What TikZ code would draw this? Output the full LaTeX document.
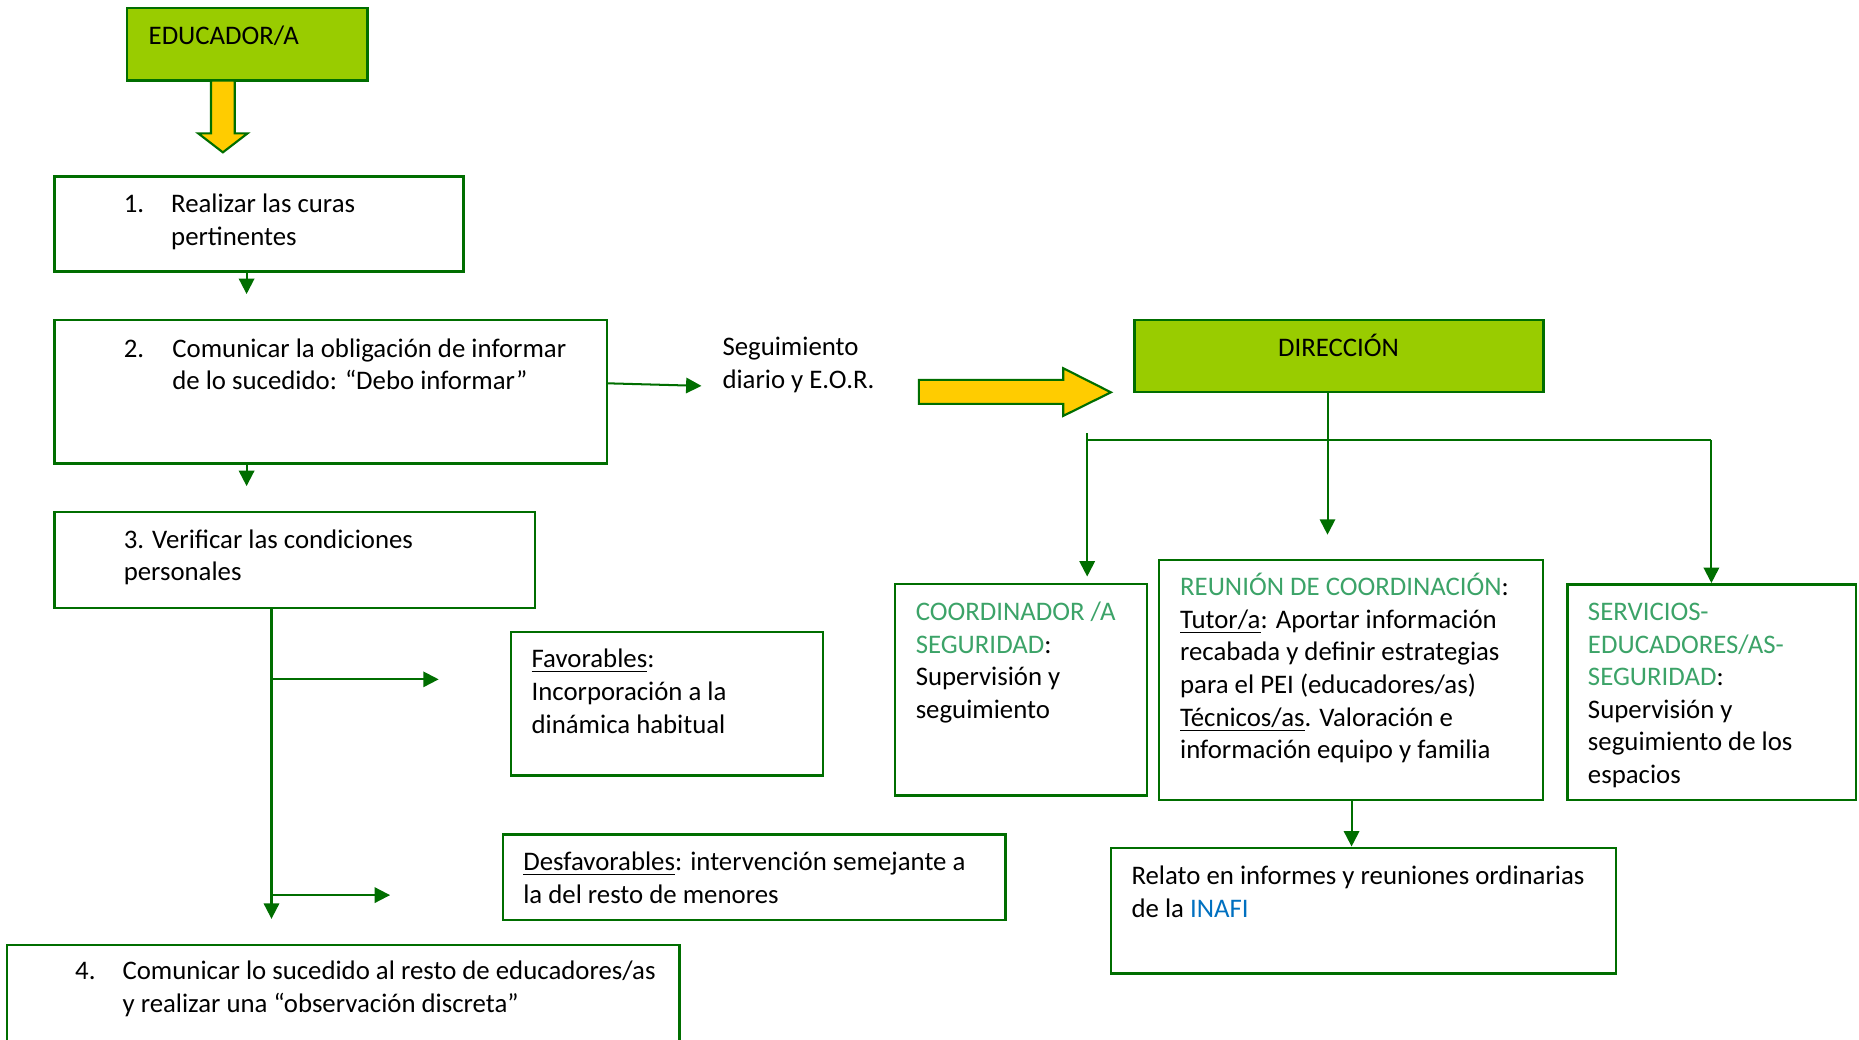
\documentclass[tikz,border=0pt]{standalone}
\usepackage{fontspec}
\setmainfont{Carlito}
\usetikzlibrary{arrows.meta,fit}
\definecolor{dkgreen}{RGB}{0,110,0}
\definecolor{boxgreen}{HTML}{99CC00}
\definecolor{arrowyellow}{HTML}{FFCC00}
\definecolor{tealtext}{RGB}{60,163,104}
\definecolor{inafiblue}{HTML}{0070C0}
\newcommand\fl{\rule{0pt}{10pt}}
\tikzset{
  frame/.style={draw=dkgreen, line width=1pt, inner sep=0pt, rectangle},
  greenframe/.style={frame, fill=boxgreen},
  txt/.style={anchor=north west, inner sep=0pt, align=left, font=\fontsize{11.3}{13.75}\selectfont},
  conn/.style={draw=dkgreen, line width=0.85pt, -{Triangle[length=6.5pt,width=6.5pt]}},
  plain/.style={draw=dkgreen, line width=0.85pt},
  bigarrow/.style={draw=dkgreen, line width=0.9pt, fill=arrowyellow}
}
\begin{document}
\begin{tikzpicture}[x=0.5pt,y=-0.5pt]
\useasboundingbox (0,0) rectangle (1568,877);
% ---------- left column ----------
\node[greenframe, fit={(107,7)(310,68)}] (edu) {};
\node[txt] (edut) at (125,17.1) {\fl EDUCADOR/A};
\draw[bigarrow] (178,68) -- (198,68) -- (198,112.5) -- (208.8,112.5) -- (188,128.5) -- (167.2,112.5) -- (178,112.5) -- cycle;

\node[frame, fit={(46,149)(391,229)}] (b1) {};
\node[txt] (b1n) at (104,158.8) {\fl 1.};
\node[txt] (b1t) at (144,158.8) {\fl Realizar las curas\\pertinentes};

\node[frame, fit={(46,270)(512,391)}] (b2) {};
\node[txt] (b2n) at (104,280.8) {\fl 2.};
\node[txt] (b2t) at (145,280.8) {\fl Comunicar la obligación de informar\\de lo sucedido: “Debo informar”};

\node[frame, fit={(46,432)(451,513)}] (b3) {};
\node[txt] (b3t) at (104,442) {\fl 3. Verificar las condiciones\\personales};

\node[frame, fit={(431,533)(694,654)}] (fav) {};
\node[txt] (favt) at (448,543) {\fl \underline{Favorables}:\\Incorporación a la\\dinámica habitual};

\node[frame, fit={(424,704)(848,776)}] (des) {};
\node[txt] (dest) at (441,714) {\fl \underline{Desfavorables}: intervención semejante a\\la del resto de menores};

\node[frame, fit={(6,797)(573,879)}] (b4) {};
\node[txt] (b4n) at (63,806) {\fl 4.};
\node[txt] (b4t) at (103,806) {\fl Comunicar lo sucedido al resto de educadores/as\\y realizar una “observación discreta”};

\node[txt] (seg) at (609,279.4) {\fl Seguimiento\\diario y E.O.R.};

% ---------- right part ----------
\draw[bigarrow] (775,320.4) -- (896.8,320.4) -- (896.8,310.6) -- (937,330.9) -- (896.8,350.8) -- (896.8,340.7) -- (775,340.7) -- cycle;

\node[greenframe, fit={(957,270)(1302,330.9)}] (dir) {};
\node[txt, anchor=north] (dirt) at (1129,280.3) {\fl DIRECCIÓN};

\node[frame, fit={(755,492.8)(967.5,671)}] (coo) {};
\node[txt] (coot) at (772,503) {\fl {\color{tealtext}COORDINADOR /A}\\{\color{tealtext}SEGURIDAD}:\\Supervisión y\\seguimiento};

\node[frame, fit={(977.6,472.3)(1301.5,675)}] (reu) {};
\node[txt] (reut) at (995,482) {\fl {\color{tealtext}REUNIÓN DE COORDINACIÓN}:\\\underline{Tutor/a}: Aportar información\\recabada y definir estrategias\\para el PEI (educadores/as)\\\underline{Técnicos/as}. Valoración e\\información equipo y familia};

\node[frame, fit={(1322,492.9)(1565.5,675)}] (ser) {};
\node[txt] (sert) at (1339,503) {\fl {\color{tealtext}SERVICIOS-}\\{\color{tealtext}EDUCADORES/AS-}\\{\color{tealtext}SEGURIDAD}:\\Supervisión y\\seguimiento de los\\espacios};

\node[frame, fit={(937,715)(1363,821)}] (rel) {};
\node[txt] (relt) at (954,726) {\fl Relato en informes y reuniones ordinarias\\de la {\color{inafiblue}INAFI}};

% ---------- connector coordinates ----------
\coordinate (c1s) at (208,229);   \coordinate (c1e) at (208,248);
\coordinate (c2s) at (208,391);   \coordinate (c2e) at (208,410);
\coordinate (c3s) at (512,323.3); \coordinate (c3e) at (591.7,325.5);
\coordinate (c4s) at (229,513);   \coordinate (c4e) at (229,775);
\coordinate (c5s) at (229,573);   \coordinate (c5e) at (370,573);
\coordinate (c6s) at (229,755);   \coordinate (c6e) at (329,755);
\coordinate (d0) at (1119.7,330.9); \coordinate (d1) at (1119.7,451);
\coordinate (dl0) at (917,365.5); \coordinate (dl1) at (917,486.3);
\coordinate (dh0) at (917,371);   \coordinate (dh1) at (1443.5,371); \coordinate (dr1) at (1443.5,491.8);
\coordinate (r0) at (1140,675);   \coordinate (r1) at (1140,714);

\draw[conn] (c1s) -- (c1e);
\draw[conn] (c2s) -- (c2e);
\draw[conn] (c3s) -- (c3e);
\draw[conn] (c4s) -- (c4e);
\draw[conn] (c5s) -- (c5e);
\draw[conn] (c6s) -- (c6e);
\draw[conn] (d0) -- (d1);
\draw[conn] (dl0) -- (dl1);
\draw[plain] (dh0) -- (dh1);
\draw[conn] (dh1) -- (dr1);
\draw[conn] (r0) -- (r1);
\end{tikzpicture}
\end{document}
